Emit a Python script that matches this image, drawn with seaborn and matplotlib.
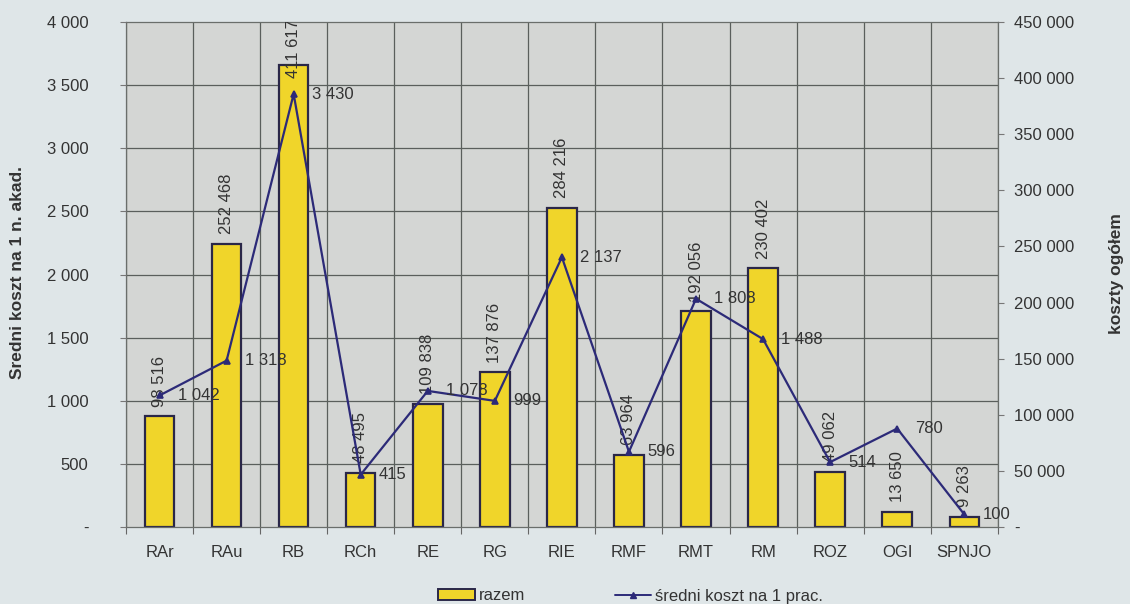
import numpy as np
import pandas as pd
import matplotlib
matplotlib.use("Agg")
import matplotlib.pyplot as plt
from matplotlib.ticker import FuncFormatter, MultipleLocator
from matplotlib.patches import Patch
from matplotlib.lines import Line2D
import seaborn as sns

# data
kategorie = ['RAr', 'RAu', 'RB', 'RCh', 'RE', 'RG', 'RIE', 'RMF', 'RMT', 'RM', 'ROZ', 'OGI', 'SPNJO']
razem = [98516, 252468, 411617, 48495, 109838, 137876, 284216, 63964, 192056, 230402, 49062, 13650, 9263]
sredni_koszt = [1042, 1318, 3430, 415, 1078, 999, 2137, 596, 1808, 1488, 514, 780, 100]

df = pd.DataFrame({'kat': kategorie, 'razem': razem, 'sredni': sredni_koszt})

sns.set_style('white')
plt.rcParams['font.family'] = ['Liberation Sans', 'DejaVu Sans']

yellow = '#f0d52a'
navy = '#2c2a78'
edge = '#2a2748'
gridc = '#5a5f5c'
txt = '#333333'
fs = 12

def fmt(v, pos=None):
    if v == 0:
        return '-'
    return f'{int(round(v)):,}'.replace(',', ' ')

fig = plt.figure(figsize=(11.3, 6.04), dpi=100, facecolor='#dfe6e8')
ax_bar = fig.add_axes([0.1115, 0.1275, 0.7715, 0.836])
ax_bar.set_facecolor('#d4d6d4')

sns.barplot(data=df, x='kat', y='razem', ax=ax_bar, color=yellow,
            edgecolor=edge, linewidth=1.6, width=0.44, saturation=1)

ax_line = ax_bar.twinx()
ax_line.patch.set_visible(False)
sns.pointplot(data=df, x='kat', y='sredni', ax=ax_line, color=navy,
              markers='^', linestyles='-', linewidth=1.6, markersize=5)

# bar axis (right scale)
ax_bar.set_ylim(0, 450000)
ax_bar.set_xlim(-0.5, len(kategorie) - 0.5)
ax_bar.yaxis.tick_right()
ax_bar.yaxis.set_major_locator(MultipleLocator(50000))
ax_bar.yaxis.set_major_formatter(FuncFormatter(fmt))
# horizontal grid follows the left scale (step 500 of 4000)
ax_bar.yaxis.set_minor_locator(MultipleLocator(450000 / 8))
ax_bar.set_xticks(np.arange(-0.5, len(kategorie), 1), minor=True)
ax_bar.grid(which='minor', axis='both', color=gridc, linewidth=0.9)
ax_bar.grid(which='major', visible=False)
ax_bar.set_axisbelow(True)
ax_bar.tick_params(axis='y', which='major', right=True, left=False, length=4, width=0.8,
                   color='#777', pad=8, labelsize=fs, labelcolor=txt,
                   labelright=True, labelleft=False)
ax_bar.tick_params(axis='y', which='minor', length=0, right=False, left=False)
ax_bar.tick_params(axis='x', which='major', length=0, pad=13, labelsize=fs, labelcolor=txt)
ax_bar.tick_params(axis='x', which='minor', bottom=True, length=5, width=0.8, color='#666')
ax_bar.set_xlabel('')
ax_bar.set_ylabel('')
for s in ax_bar.spines.values():
    s.set_color('#6a6e6b')
    s.set_linewidth(0.9)

# value labels above bars; a label that would run past the top is pushed down and clipped
for i, v in enumerate(razem):
    dy = 7 if v < 380000 else -9
    t = ax_bar.annotate(fmt(v), (i, v), xytext=(0, dy), textcoords='offset points',
                        rotation=90, ha='center', va='bottom',
                        fontsize=fs, color=txt)
    t.set_clip_path(ax_bar.patch)

# line axis (left scale)
ax_line.set_ylim(0, 4000)
ax_line.set_xlim(-0.5, len(kategorie) - 0.5)
ax_line.yaxis.tick_left()
ax_line.yaxis.set_major_locator(MultipleLocator(500))
ax_line.yaxis.set_major_formatter(FuncFormatter(fmt))
ax_line.tick_params(axis='y', left=True, right=False, length=4, width=0.8,
                    color='#777', pad=23, labelsize=fs, labelcolor=txt,
                    labelleft=True, labelright=False)
ax_line.set_xlabel('')
ax_line.set_ylabel('')
for s in ax_line.spines.values():
    s.set_visible(False)

for i, v in enumerate(sredni_koszt):
    ax_line.annotate(fmt(v), (i, v), xytext=(13, 0), textcoords='offset points',
                     ha='left', va='center', fontsize=fs, color=txt)

fig.text(18 / 1130, 1 - 272 / 604, 'Sredni koszt na 1 n. akad.', rotation=90,
         ha='center', va='center', fontsize=12.5, fontweight='bold', color=txt)
fig.text(1117 / 1130, 1 - 274 / 604, 'koszty ogółem', rotation=90,
         ha='center', va='center', fontsize=12.5, fontweight='bold', color=txt)

handles = [Patch(facecolor=yellow, edgecolor=edge, linewidth=1.4),
           Line2D([0], [0], color=navy, marker='^', markersize=5, linewidth=1.4)]
fig.legend(handles, ['razem', 'średni koszt na 1 prac.'], loc='center',
           bbox_to_anchor=(0.558, 1 - 596 / 604), ncol=2, frameon=False, fontsize=fs,
           handlelength=2.2, handleheight=0.6, handletextpad=0.2, columnspacing=5.4,
           labelcolor=txt)

fig.savefig('out.png', dpi=100, facecolor=fig.get_facecolor())
